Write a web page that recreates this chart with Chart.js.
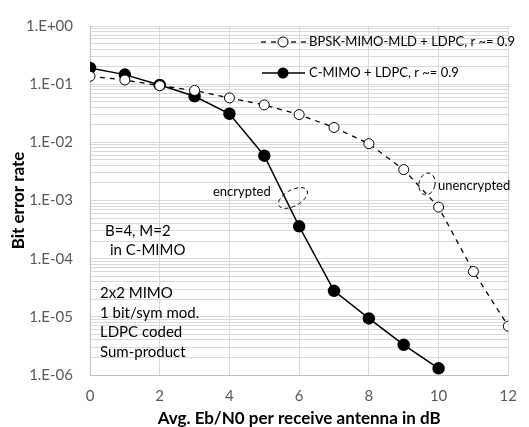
<!DOCTYPE html>
<html>
<head>
<meta charset="utf-8">
<script src="https://cdn.jsdelivr.net/npm/chart.js@4.4.1/dist/chart.umd.min.js"></script>
<style>
  html, body { margin: 0; padding: 0; background: #fff; }
  #wrap { width: 529px; height: 427px; position: relative; }
</style>
</head>
<body>
<div id="wrap"><canvas id="ber-chart" width="529" height="427"></canvas></div>
<script>
// Eb/N0 in dB
const ebn0 = [0, 1, 2, 3, 4, 5, 6, 7, 8, 9, 10, 11, 12];
// BPSK-MIMO-MLD + LDPC
const bpskBer = [0.137, 0.118, 0.094, 0.078, 0.058, 0.044, 0.030, 0.018, 0.0095, 0.0034, 7.7e-4, 6.0e-5, 6.9e-6];
// C-MIMO + LDPC
const cmimoBer = [0.19, 0.146, 0.097, 0.062, 0.031, 0.0059, 3.6e-4, 2.8e-5, 9.4e-6, 3.3e-6, 1.3e-6];

const seriesNames = ['BPSK-MIMO-MLD + LDPC, r ~= 0.9', 'C-MIMO + LDPC, r ~= 0.9'];
const xTicks = [0, 2, 4, 6, 8, 10, 12];
const yDecades = [1e-6, 1e-5, 1e-4, 1e-3, 1e-2, 1e-1, 1];
const yTickLabels = ['1.E-06', '1.E-05', '1.E-04', '1.E-03', '1.E-02', '1.E-01', '1.E+00'];

const FONT = 'Lato, "Open Sans", sans-serif';

function toPoints(xs, ys) {
    return ys.map((y, i) => ({ x: xs[i], y: y }));
}

// legend, notes and ellipses drawn inside the plot
const overlay = {
    id: 'overlay',
    afterDatasetsDraw(chart) {
        const ctx = chart.ctx;
        ctx.save();
        ctx.font = '13px ' + FONT;
        ctx.fillStyle = '#000';
        ctx.textBaseline = 'middle';
        ctx.strokeStyle = '#000';
        ctx.lineWidth = 1.3;

        // legend row 1
        ctx.setLineDash([5, 5]);
        ctx.beginPath();
        ctx.moveTo(261, 42); ctx.lineTo(306, 42);
        ctx.stroke();
        ctx.setLineDash([]);
        ctx.beginPath();
        ctx.arc(283, 42, 5, 0, Math.PI * 2);
        ctx.fillStyle = '#fff'; ctx.fill();
        ctx.lineWidth = 1; ctx.stroke();
        ctx.fillStyle = '#000';
        ctx.fillText(seriesNames[0], 309, 42);

        // legend row 2
        ctx.lineWidth = 1.5;
        ctx.beginPath();
        ctx.moveTo(262, 73); ctx.lineTo(305, 73);
        ctx.stroke();
        ctx.beginPath();
        ctx.arc(283, 73, 5.5, 0, Math.PI * 2);
        ctx.fill();
        ctx.fillText(seriesNames[1], 309, 73);

        // labels near the curves
        ctx.fillText('encrypted', 213, 192);
        ctx.fillText('unencrypted', 438, 186);

        // notes
        ctx.font = '15px ' + FONT;
        ctx.fillText('B=4, M=2', 105, 231);
        ctx.fillText('in C-MIMO', 110, 250);
        ctx.fillText('2x2 MIMO', 100, 293);
        ctx.fillText('1 bit/sym mod.', 100, 313);
        ctx.fillText('LDPC coded', 100, 332);
        ctx.fillText('Sum-product', 100, 352);

        // dashed ellipses
        ctx.setLineDash([4, 3]);
        ctx.lineWidth = 1;
        ctx.beginPath();
        ctx.ellipse(293, 198, 16, 8, -0.5, 0, Math.PI * 2);
        ctx.stroke();
        ctx.beginPath();
        ctx.ellipse(427, 184, 8, 11, 0.2, 0, Math.PI * 2);
        ctx.stroke();
        ctx.restore();
    }
};

const ctx = document.getElementById('ber-chart').getContext('2d');
const chart = new Chart(ctx, {
    type: 'line',
    data: {
        datasets: [{
            label: seriesNames[0],
            data: toPoints(ebn0, bpskBer),
            borderColor: '#000',
            borderWidth: 1.3,
            borderDash: [5, 5],
            pointRadius: 5,
            pointBackgroundColor: '#fff',
            pointBorderColor: '#000',
            pointBorderWidth: 1,
            tension: 0
        }, {
            label: seriesNames[1],
            data: toPoints(ebn0, cmimoBer),
            borderColor: '#000',
            borderWidth: 1.5,
            pointRadius: 5.5,
            pointBackgroundColor: '#000',
            pointBorderColor: '#000',
            tension: 0
        }]
    },
    options: {
        responsive: false,
        animation: false,
        layout: { padding: { top: 18, right: 11, left: 0, bottom: 0 } },
        plugins: { legend: { display: false }, tooltip: { enabled: false } },
        scales: {
            x: {
                type: 'linear',
                min: 0,
                max: 12,
                afterBuildTicks: (scale) => { scale.ticks = xTicks.map(v => ({ value: v })); },
                afterFit: (scale) => { scale.height = 52; },
                grid: { color: '#d9d9d9', drawTicks: false },
                border: { color: '#bfbfbf' },
                ticks: { color: '#595959', font: { family: FONT, size: 15 }, padding: 12 },
                title: { display: true, text: 'Avg. Eb/N0 per receive antenna in dB', color: '#000', font: { family: FONT, size: 17, weight: 'bold', lineHeight: 1 }, padding: { top: 0, bottom: 0 } }
            },
            y: {
                type: 'logarithmic',
                min: 1e-6,
                max: 1,
                afterBuildTicks: (scale) => {
                    const t = [];
                    for (let e = -6; e <= 0; e++) {
                        for (let k = 1; k <= 9; k++) {
                            const v = k * Math.pow(10, e);
                            if (v <= 1.0000001) t.push({ value: v });
                        }
                    }
                    scale.ticks = t;
                },
                afterFit: (scale) => { scale.width = 90; },
                grid: { color: '#d9d9d9', drawTicks: false },
                border: { color: '#bfbfbf' },
                ticks: {
                    autoSkip: false,
                    color: '#595959',
                    font: { family: FONT, size: 15 },
                    padding: 17,
                    callback: (v) => {
                        const i = yDecades.findIndex(d => Math.abs(v / d - 1) < 1e-6);
                        return i >= 0 ? yTickLabels[i] : '';
                    }
                },
                title: { display: true, text: 'Bit error rate', color: '#000', font: { family: FONT, size: 17, weight: 'bold', lineHeight: 1 }, padding: { top: 10, bottom: 0 } }
            }
        }
    },
    plugins: [overlay]
});
</script>
</body>
</html>
